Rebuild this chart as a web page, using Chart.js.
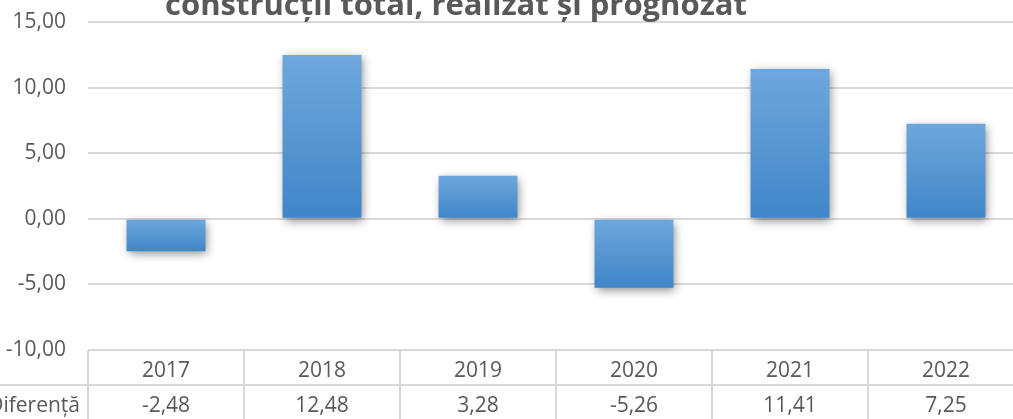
<!DOCTYPE html>
<html>
<head>
<meta charset="utf-8">
<script src="https://cdn.jsdelivr.net/npm/chart.js@4.4.1/dist/chart.umd.min.js"></script>
<style>
  html, body { margin: 0; padding: 0; background: #fff; overflow: hidden; }
  #wrap { position: relative; width: 1026px; height: 419px; }
</style>
</head>
<body>
<div id="wrap"><canvas id="diferenta"></canvas></div>
<script>
  const ani = ['2017', '2018', '2019', '2020', '2021', '2022'];
  const diferenta = [-2.48, 12.48, 3.28, -5.26, 11.41, 7.25];
  const eticheta_serie = 'Diferență';
  const titlu = 'construcții total, realizat și prognozat';

  const gri_text = '#595959';
  const gri_linie = '#d9d9d9';

  const fmt = v => Number(v).toFixed(2).replace('.', ',');

  // gradient vertical pe fiecare bara, ca in Excel
  function culoareBara(context) {
    const chart = context.chart;
    const y = chart.scales.y;
    if (!y || context.dataIndex === undefined) return '#5b9bd5';
    const v = context.dataset.data[context.dataIndex];
    const a = y.getPixelForValue(v);
    const b = y.getPixelForValue(0);
    const top = Math.min(a, b), bottom = Math.max(a, b);
    if (!isFinite(top) || bottom - top < 1) return '#5b9bd5';
    const g = chart.ctx.createLinearGradient(0, top, 0, bottom);
    g.addColorStop(0, '#6ea7dd');
    g.addColorStop(1, '#3f86c8');
    return g;
  }

  const umbra = {
    id: 'umbra',
    beforeDatasetsDraw(chart) {
      const ctx = chart.ctx;
      ctx.save();
      ctx.shadowColor = 'rgba(0, 0, 0, 0.45)';
      ctx.shadowBlur = 9;
      ctx.shadowOffsetX = 2;
      ctx.shadowOffsetY = 3;
    },
    afterDatasetsDraw(chart) {
      chart.ctx.restore();
    }
  };

  // tabelul de date de sub grafic + titlul taiat de sus
  const tabel = {
    id: 'tabel',
    afterDraw(chart) {
      const ctx = chart.ctx;
      const x = chart.scales.x;
      const area = chart.chartArea;
      const n = ani.length;
      const latime = (area.right - area.left) / n;
      const r0 = area.bottom, r1 = r0 + 35, r2 = r1 + 36;

      ctx.save();
      ctx.strokeStyle = gri_linie;
      ctx.lineWidth = 2;
      ctx.beginPath();
      ctx.moveTo(area.left, r0); ctx.lineTo(area.right, r0);
      ctx.moveTo(0, r1); ctx.lineTo(area.right, r1);
      ctx.moveTo(0, r2); ctx.lineTo(area.right, r2);
      for (let i = 0; i <= n; i++) {
        const xx = area.left + i * latime;
        ctx.moveTo(xx, r0); ctx.lineTo(xx, r2);
      }
      ctx.stroke();

      ctx.fillStyle = gri_text;
      ctx.font = '21px "Open Sans"';
      ctx.textAlign = 'center';
      ctx.textBaseline = 'alphabetic';
      for (let i = 0; i < n; i++) {
        const cx = x.getPixelForValue(i);
        ctx.fillText(ani[i], cx, r0 + 27);
        ctx.fillText(fmt(diferenta[i]), cx, r1 + 27);
      }
      ctx.textAlign = 'right';
      ctx.fillText(eticheta_serie, area.left - 8, r1 + 27);

      ctx.font = 'bold 31px "Open Sans"';
      ctx.textAlign = 'center';
      ctx.fillText(titlu, 456, 15);
      ctx.restore();
    }
  };

  const ctx = document.getElementById('diferenta').getContext('2d');
  const chart_diferenta = new Chart(ctx, {
    type: 'bar',
    data: {
      labels: ani,
      datasets: [{
        label: eticheta_serie,
        data: diferenta,
        backgroundColor: culoareBara,
        borderWidth: 0,
        barPercentage: 1,
        categoryPercentage: 0.506
      }]
    },
    options: {
      responsive: true,
      maintainAspectRatio: false,
      animation: false,
      layout: { padding: { top: 22, bottom: 69, left: 0, right: 2 } },
      plugins: {
        legend: { display: false },
        title: { display: false },
        tooltip: { enabled: false }
      },
      scales: {
        x: {
          display: false,
          offset: true
        },
        y: {
          min: -10,
          max: 15,
          afterFit(scale) {
            scale.width = 88;
            scale.paddingTop = 0;
            scale.paddingBottom = 0;
          },
          border: { display: false },
          grid: { color: gri_linie, lineWidth: 2, drawTicks: false },
          ticks: {
            stepSize: 5,
            padding: 22,
            color: gri_text,
            font: { family: 'Open Sans', size: 21 },
            callback: v => fmt(v)
          }
        }
      }
    },
    plugins: [umbra, tabel]
  });
</script>
</body>
</html>
